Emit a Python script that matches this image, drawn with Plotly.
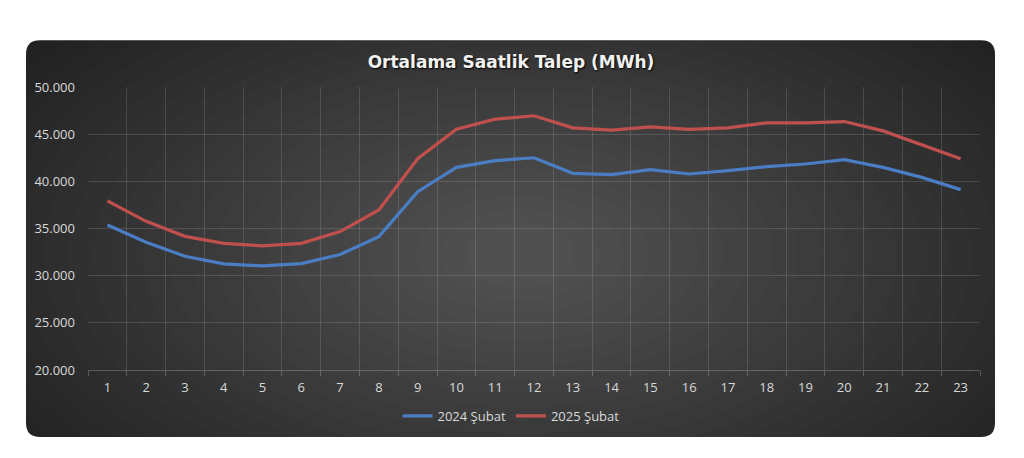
import plotly.graph_objects as go

hours = list(range(1, 24))
feb_2024 = [35380, 33540, 32060, 31250, 31040, 31280, 32240, 34140, 38910, 41480,
            42190, 42500, 40850, 40710, 41240, 40780, 41130, 41560, 41840, 42300,
            41480, 40420, 39120]
feb_2025 = [37920, 35760, 34170, 33430, 33160, 33430, 34670, 36970, 42400, 45530,
            46590, 46950, 45670, 45420, 45770, 45500, 45670, 46200, 46200, 46340,
            45350, 43880, 42400]
series_names = ["2024 Şubat", "2025 Şubat"]
title_text = "Ortalama Saatlik Talep (MWh)"
y_ticks = [20000, 25000, 30000, 35000, 40000, 45000, 50000]

OFF = 8  # page body margin
W, H = 1024 - OFF, 458 - OFF
L, R, T, B = 88 - OFF, 980 - OFF, 86.7 - OFF, 370.0 - OFF


def px(x):
    return (x - OFF - L) / (R - L)


def py(y):
    return (B - (y - OFF)) / (B - T)


fig = go.Figure()
colors = ["#4a7dc4", "#c0504d"]
for name, vals, c in zip(series_names, [feb_2024, feb_2025], colors):
    fig.add_trace(go.Scatter(x=hours, y=vals, name=name, mode="lines",
                             line=dict(color=c, width=3.2)))

shapes = []
# rounded panel
x0, x1, y0, y1, r = 26, 995, 40, 437, 14
path = (f"M {px(x0+r)},{py(y0)} L {px(x1-r)},{py(y0)} "
        f"Q {px(x1)},{py(y0)} {px(x1)},{py(y0+r)} L {px(x1)},{py(y1-r)} "
        f"Q {px(x1)},{py(y1)} {px(x1-r)},{py(y1)} L {px(x0+r)},{py(y1)} "
        f"Q {px(x0)},{py(y1)} {px(x0)},{py(y1-r)} L {px(x0)},{py(y0+r)} "
        f"Q {px(x0)},{py(y0)} {px(x0+r)},{py(y0)} Z")
shapes.append(dict(type="path", path=path, xref="paper", yref="paper",
                   fillcolor="#1e1e1e", line=dict(width=0), layer="below"))
# radial-ish gradient via stacked translucent ellipses
cx, cy = 520, 255
n = 25
for i in range(n):
    f = 1 - i / n
    rx, ry = 30 + 620 * f, 20 + 330 * f
    shapes.append(dict(type="circle", xref="paper", yref="paper",
                       x0=px(cx - rx), x1=px(cx + rx), y0=py(cy + ry), y1=py(cy - ry),
                       fillcolor="rgba(255,255,255,0.01)", line=dict(width=0),
                       layer="below"))

panel_center = px(511)

fig.update_layout(
    width=W, height=H,
    margin=dict(l=L, r=W - R, t=T, b=H - B, autoexpand=False),
    paper_bgcolor="white", plot_bgcolor="rgba(0,0,0,0)",
    separators=",.",
    shapes=shapes,
    title=dict(text=f"<b>{title_text}</b>", x=panel_center, xref="paper",
               xanchor="center", y=1 - (62 - OFF) / H, yanchor="middle",
               font=dict(family="DejaVu Sans", size=17, color="#f2f2f2",
                         shadow="1px 1px 2px #000000")),
    legend=dict(orientation="h", x=panel_center, xanchor="center", y=py(416),
                yanchor="middle",
                font=dict(family="Open Sans", size=13, color="#d9d9d9"),
                bgcolor="rgba(0,0,0,0)", itemwidth=30, tracegroupgap=0),
    xaxis=dict(range=[0.5, 23.5], tickvals=hours, showgrid=False, zeroline=False,
               ticks="", tickfont=dict(family="Open Sans", size=13, color="#d9d9d9"),
               ticklabelstandoff=5,
               showline=True, linecolor="rgba(255,255,255,0.22)", linewidth=1,
               minor=dict(tickvals=[h + 0.5 for h in range(0, 24)], showgrid=True,
                          gridcolor="rgba(255,255,255,0.13)", gridwidth=1,
                          ticks="outside", ticklen=5,
                          tickcolor="rgba(255,255,255,0.22)")),
    yaxis=dict(range=[20000, 50000], tickvals=y_ticks, tickformat=",",
               showgrid=True, gridcolor="rgba(255,255,255,0.13)", gridwidth=1,
               zeroline=False, ticks="", ticklabelstandoff=12,
               tickfont=dict(family="Open Sans", size=13, color="#d9d9d9")),
)

fig.write_html("out.html")
